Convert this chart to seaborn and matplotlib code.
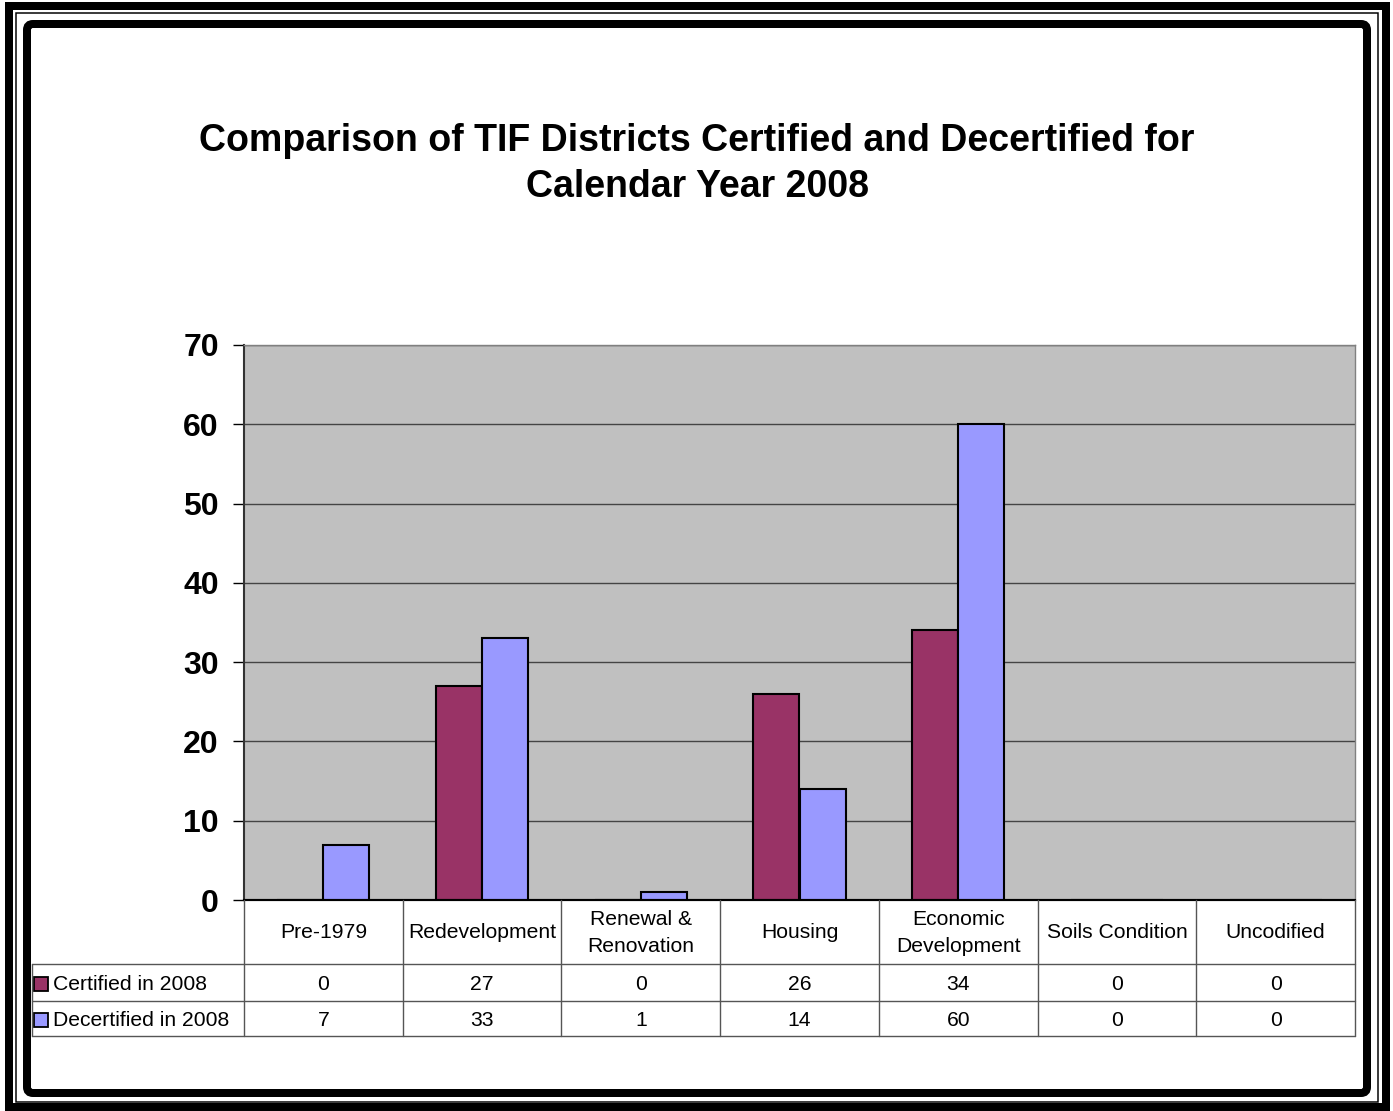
import numpy as np
import pandas as pd
import matplotlib
matplotlib.use("Agg")
import matplotlib.pyplot as plt
from matplotlib.patches import Rectangle, FancyBboxPatch
from matplotlib.lines import Line2D
import seaborn as sns

categories = ["Pre-1979", "Redevelopment", "Renewal &\nRenovation", "Housing",
              "Economic\nDevelopment", "Soils Condition", "Uncodified"]
series_names = ["Certified in 2008", "Decertified in 2008"]
certified = [0, 27, 0, 26, 34, 0, 0]
decertified = [7, 33, 1, 14, 60, 0, 0]
y_ticks = [0, 10, 20, 30, 40, 50, 60, 70]
colors = ["#993366", "#9999FF"]

sns.set_theme(style="white")
plt.rcParams["font.family"] = ["Liberation Sans", "DejaVu Sans"]
plt.rcParams["text.color"] = "black"
plt.rcParams["ytick.color"] = "black"
plt.rcParams["xtick.color"] = "black"

df = pd.DataFrame({
    "category": categories * 2,
    "series": [series_names[0]] * len(categories) + [series_names[1]] * len(categories),
    "value": certified + decertified,
})

W, H = 1393, 1111
fig = plt.figure(figsize=(W / 100, H / 100), dpi=100)
fig.patch.set_facecolor("white")

def fx(px):
    return px / W

def fy(py):
    return 1 - py / H

# frame
inch = fig.dpi_scale_trans
def px_rect(x0, y0, x1, y1, lw, rounding=None):
    if rounding is None:
        p = Rectangle((x0 / 100, (H - y1) / 100), (x1 - x0) / 100, (y1 - y0) / 100,
                      transform=inch, fill=False, lw=lw * 0.72, ec="black")
    else:
        p = FancyBboxPatch((x0 / 100, (H - y1) / 100), (x1 - x0) / 100, (y1 - y0) / 100,
                           boxstyle=f"round,pad=0,rounding_size={rounding}",
                           transform=inch, fill=False, lw=lw * 0.72, ec="black")
    fig.patches.append(p)

px_rect(9, 6, 1386, 1107, 8)
px_rect(16, 13, 1378, 1102, 1.5)
px_rect(27, 24, 1367, 1093, 8, rounding=0.06)

# plot area
L, R, T, B = 244, 1355, 345, 900
ax = fig.add_axes([fx(L), fy(B), fx(R - L), (B - T) / H])
sns.barplot(data=df, x="category", y="value", hue="series", palette=colors,
            width=0.58, edgecolor="black", linewidth=1.5, saturation=1,
            ax=ax, legend=False, zorder=3)
ax.set_facecolor("#C0C0C0")
ax.set_xlim(-0.5, len(categories) - 0.5)
ax.set_ylim(0, 70)
ax.set_yticks(y_ticks)
ax.set_yticklabels([str(t) for t in y_ticks], fontsize=23, fontweight="bold")
ax.tick_params(axis="y", length=8, width=1, color="black", pad=10, left=True)
ax.set_xticks([])
ax.set_xlabel("")
ax.set_ylabel("")
for t in y_ticks[1:]:
    ax.axhline(t, color="#444444", lw=1, zorder=1)
for s in ["top", "right"]:
    ax.spines[s].set_color("#808080")
    ax.spines[s].set_linewidth(1)
ax.spines["left"].set_color("#333333")
ax.spines["left"].set_linewidth(1.5)
ax.spines["bottom"].set_color("black")
ax.spines["bottom"].set_linewidth(1.5)

# title
fig.text(fx(697), fy(164), "Comparison of TIF Districts Certified and Decertified for\nCalendar Year 2008",
         ha="center", va="center", fontsize=27, fontweight="bold", linespacing=1.38)

# data table
rows_y = [B, 964, 1001, 1036]
col_w = (R - L) / len(categories)
cols_x = [L + i * col_w for i in range(len(categories) + 1)]
lc = "#555555"
fig.add_artist(Line2D([fx(L), fx(R)], [fy(B), fy(B)], color="black", lw=1.5))
for yy in rows_y[1:]:
    fig.add_artist(Line2D([fx(32), fx(R)], [fy(yy), fy(yy)], color=lc, lw=1))
for xx in cols_x:
    fig.add_artist(Line2D([fx(xx), fx(xx)], [fy(B), fy(rows_y[-1])], color=lc, lw=1))
fig.add_artist(Line2D([fx(32), fx(32)], [fy(964), fy(rows_y[-1])], color=lc, lw=1))

fs = 15.2
for i, cat in enumerate(categories):
    cx = (cols_x[i] + cols_x[i + 1]) / 2
    fig.text(fx(cx), fy(933), cat, ha="center", va="center", fontsize=fs, linespacing=1.5)
    fig.text(fx(cx), fy(984), str(certified[i]), ha="center", va="center", fontsize=fs)
    fig.text(fx(cx), fy(1020), str(decertified[i]), ha="center", va="center", fontsize=fs)

for j, (name, ymid) in enumerate(zip(series_names, [984, 1020])):
    fig.patches.append(Rectangle((fx(34), fy(ymid + 7)), fx(14), 14 / H,
                                 transform=fig.transFigure, fc=colors[j], ec="black", lw=1.3))
    fig.text(fx(53), fy(ymid), name, ha="left", va="center", fontsize=fs)

fig.savefig("out.png", dpi=100)
